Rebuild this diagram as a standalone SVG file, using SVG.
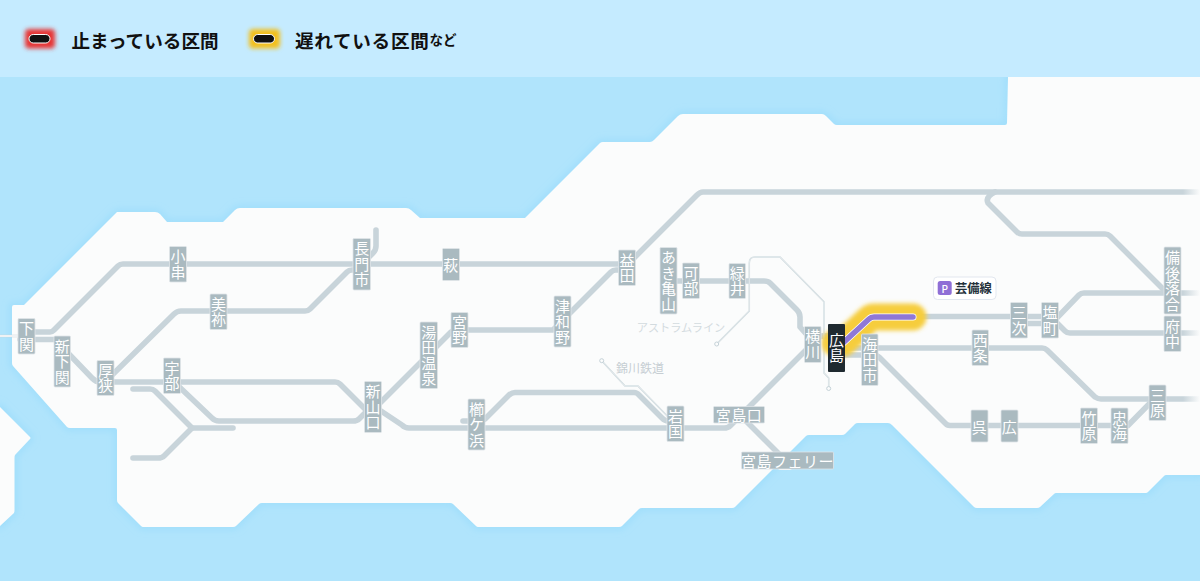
<svg xmlns="http://www.w3.org/2000/svg" width="1200" height="581" viewBox="0 0 1200 581">
<style>
text{font-family:"Noto Sans CJK JP","Noto Sans",sans-serif}
.r{fill:none;stroke:#c8d4da;stroke-width:5.600;stroke-linecap:round;stroke-linejoin:round}
.t{fill:none;stroke:#c9d5da;stroke-width:1.500;stroke-linejoin:round}
.ti{fill:none;stroke:#fbfcfc;stroke-width:.5}
.c{fill:#fbfcfc;stroke:#c5d2d8;stroke-width:1}
.b{fill:#aabac0;stroke:#dfe5e8;stroke-width:.8}
.s{fill:#fff;font-size:15px;letter-spacing:.5px;text-anchor:middle}
.v{writing-mode:vertical-rl;text-orientation:upright;transform:translateY(.3px)}
.h{dominant-baseline:central}
.lg{fill:#111;font-size:18.600px;font-weight:700;dominant-baseline:central}
.pale{font-size:11.200px;fill:#d3dbdf;dominant-baseline:central;text-anchor:middle}
.land{fill:#fbfcfc}
.yl{fill:none;stroke:#f6cd3e;stroke-width:27;stroke-linecap:round;stroke-linejoin:round}
.wl{fill:none;stroke:#fff;stroke-width:7;stroke-linecap:round;stroke-linejoin:round}
.pl{fill:none;stroke:#8f78d6;stroke-width:5.500;stroke-linecap:round;stroke-linejoin:round}
</style>
<defs>
<filter id="b2" x="-40%" y="-120%" width="180%" height="340%"><feGaussianBlur stdDeviation="2.200"/></filter>
<filter id="b4" x="-5%" y="-5%" width="110%" height="110%"><feGaussianBlur stdDeviation="3.500"/></filter>
<linearGradient id="fade" x1="0" x2="1" y1="0" y2="0"><stop offset="0" stop-color="#fbfcfc" stop-opacity="0"/><stop offset="1" stop-color="#fbfcfc"/></linearGradient>
<path id="mainland" d="M14,305H24L117,212H155Q158,212 160,214L167,222H223L235,210Q237,208 240,208H406Q409,208 411,210L420,218H525L600,143Q601,142 603,142H650Q652,142 654,140L678,116Q680,114 683,114H822Q824,114 826,116L834,124Q835,125 837,125H1005Q1007,125 1007,123L1008,77H1200V475H1166Q1165,475 1164,476L1148,492Q1147,493 1146,493H1056Q1055,493 1054,494L1040,507Q1039,508 1037,508H977Q975,508 974,507L892,425Q890,423 888,423H858Q856,423 855,424L845,434Q844,435 842,435H809Q807,435 806,436L735,507Q734,508 732,508H642Q640,508 639,509L622,526Q621,527 619,527H478Q477,527 476,526L453,504Q452,503 450,503H262Q260,503 259,504L236,526Q235,527 233,527H143Q142,527 141,526L118,503Q117,502 117,500V430Q117,428 115,428H70Q68,428 67,427L13,366Q12,365 12,363V307Q12,305 14,305Z"/>
<path id="isle" d="M0,407L30,437Q31,438 30,439L15,455Q14.500,456 14.500,458V510Q14.500,512 14,513L0,526Z"/>
</defs>
<rect width="1200" height="581" fill="#b0e4fc"/>
<g id="sea-glow" filter="url(#b4)" fill="none" stroke="#98dbfb" stroke-width="4"><use href="#mainland"/><use href="#isle"/></g>
<rect id="header" width="1200" height="77" fill="#c5ebff"/>
<g id="land"><use href="#mainland" class="land"/><use href="#isle" class="land"/></g>

<g id="legend">
<rect x="25" y="29" width="30" height="19.500" rx="4" fill="#e63636" filter="url(#b2)"/>
<rect x="29" y="34.500" width="21" height="8.500" rx="4.250" fill="#111" stroke="#fff" stroke-width="1"/>
<text class="lg" x="71.500" y="39">止まっている区間</text>
<rect x="249" y="29" width="31" height="19.500" rx="4" fill="#f3c01e" filter="url(#b2)"/>
<rect x="253.500" y="34.500" width="21" height="8.500" rx="4.250" fill="#111" stroke="#fff" stroke-width="1"/>
<text class="lg" x="295" y="39" letter-spacing=".7">遅れている区間<tspan font-size="13.500px" letter-spacing="0">など</tspan></text>
</g>

<g id="connectors">
<path class="t" d="M0,336H18" style="stroke-width:2.500"/><path d="M0,336H18" stroke="#fff" stroke-width="1.400" fill="none"/>
<path class="r" d="M30,332H50Q52,332 54,330L118,266Q120,264 123,264H626Q628,264 630,262L697,195Q700,192 703,192H1200"/>
<path class="r" d="M20,339.500H55L92,378Q96,382 100,382H335Q338,382 340,384L368,412"/>
<path class="r" d="M105,382L174,314Q177,311 181,311H305Q308,311 310,309L347,272Q349,270 352,270H358"/>
<path class="r" d="M362,264L373,253Q376,250 376,246V230"/>
<path class="r" d="M172,380L212,418Q215,421 219,421H353Q357,421 359,419L368,410"/>
<path class="r" d="M133,389H150Q153,389 155,391L192,428H233"/>
<path class="r" d="M133,458H158Q162,458 164,456L192,428"/>
<path class="r" d="M375,408L451,332Q453,330 456,330H553L611,272Q613,270 616,270H628"/>
<path class="r" d="M372,405L402,425Q405,428 409,428H724Q728,428 730,426L818,338Q820,336 823,336H850"/>
<path class="r" d="M463,421H480Q483,421 485,419L509,395Q512,392.500 515,392.500H634Q637,392.500 639,395L662,418Q665,421 668,421H676"/>
<path class="r" d="M668,281H764Q768,281 770,283L797,310Q800,313 800,317V327L808,336H830"/>
<path class="r" d="M745,420L785,460"/>
<rect x="778" y="465" width="14" height="5" rx="2.500" fill="#fff"/>
<path class="r" d="M850,348H1042Q1045,348 1047,350L1095,397Q1098,399 1101,399H1200"/>
<path class="r" d="M835,355H874Q877,355 879,357L945,423Q947,425.500 950,425.500H1128L1155,398"/>
<path class="r" d="M913,316.500H1050"/>
<path class="r" d="M1018,323.500H1052"/>
<path class="r" d="M1052,323L1079,295Q1081,293 1084,293H1200"/>
<path class="r" d="M1052,318L1065,331Q1067,333 1070,333H1200"/>
<path class="r" d="M995,192Q985,197 988,203L1017,232Q1019,234 1022,234H1105Q1108,234 1110,236L1165,291H1175"/>
<rect x="1183" y="180" width="17" height="230" fill="url(#fade)"/>
<path class="t" d="M716.700,344L749.300,311V263Q749.300,257 755,257H780L824,301.700V373L828.700,378V388"/>
<path class="ti" d="M716.700,344L749.300,311V263Q749.300,257 755,257H780L824,301.700V373L828.700,378V388"/>
<circle class="c" cx="716.700" cy="344" r="2"/><circle class="c" cx="828.700" cy="388.500" r="2"/>
<path class="t" d="M601.700,360.700L625,386H638L668,416.700"/>
<path class="ti" d="M601.700,360.700L625,386H638L668,416.700"/>
<circle class="c" cx="601.700" cy="360.700" r="2"/>
<path class="yl" d="M835,343H843L869,319Q871,317 874,317H913" filter="url(#b2)"/>
<path class="wl" d="M835,343H843L869,319Q871,317 874,317H913"/>
<path class="pl" d="M835,343H843L869,319Q871,317 874,317H913"/>
</g>

<text class="pale" x="681" y="327">アストラムライン</text>
<text class="pale" x="640" y="367" style="font-size:12px;fill:#c6ced3">錦川鉄道</text>

<g id="n-shimonoseki"><rect class="b" x="18" y="318.500" width="17" height="35.500" rx="1"/><text class="s v" x="26.500" y="336.300">下関</text></g>
<g id="n-shinshimonoseki"><rect class="b" x="54" y="336" width="16.500" height="51" rx="1"/><text class="s v" x="62.200" y="361.500">新下関</text></g>
<g id="n-asa"><rect class="b" x="97" y="360.500" width="17" height="35" rx="1"/><text class="s v" x="105.500" y="378">厚狭</text></g>
<g id="n-kogushi"><rect class="b" x="169.500" y="246.500" width="17" height="35.500" rx="1"/><text class="s v" x="178" y="264.200">小串</text></g>
<g id="n-mine"><rect class="b" x="210" y="294" width="17" height="35.500" rx="1"/><text class="s v" x="218.500" y="311.700">美祢</text></g>
<g id="n-ube"><rect class="b" x="163.500" y="358" width="17" height="35.500" rx="1"/><text class="s v" x="172" y="375.700">宇部</text></g>
<g id="n-nagatoshi"><rect class="b" x="353" y="238.500" width="17.500" height="51.500" rx="1"/><text class="s v" x="361.700" y="264.200">長門市</text></g>
<g id="n-shinyamaguchi"><rect class="b" x="364.500" y="381.500" width="17" height="51" rx="1"/><text class="s v" x="373" y="407">新山口</text></g>
<g id="n-hagi"><rect class="b" x="442.500" y="248.500" width="17" height="32" rx="1"/><text class="s h" x="451" y="264">萩</text></g>
<g id="n-yuda"><rect class="b" x="420" y="322" width="17.500" height="66.500" rx="1"/><text class="s v" x="428.700" y="355.200">湯田温泉</text></g>
<g id="n-miyano"><rect class="b" x="451" y="312.500" width="17" height="35" rx="1"/><text class="s v" x="459.500" y="330">宮野</text></g>
<g id="n-kushigahama"><rect class="b" x="468" y="399" width="17" height="51" rx="1"/><text class="s v" x="476.500" y="424.500">櫛ケ浜</text></g>
<g id="n-tsuwano"><rect class="b" x="554" y="296" width="17" height="51" rx="1"/><text class="s v" x="562.500" y="321.500">津和野</text></g>
<g id="n-masuda"><rect class="b" x="618.500" y="250" width="17" height="35.500" rx="1"/><text class="s v" x="627" y="267.700">益田</text></g>
<g id="n-iwakuni"><rect class="b" x="667" y="406" width="17" height="35.500" rx="1"/><text class="s v" x="675.500" y="423.700">岩国</text></g>
<g id="n-akikameyama"><rect class="b" x="660" y="247.500" width="17" height="66.500" rx="1"/><text class="s v" x="668.500" y="280.700">あき亀山</text></g>
<g id="n-kabe"><rect class="b" x="682.500" y="263" width="17" height="35.500" rx="1"/><text class="s v" x="691" y="280.700">可部</text></g>
<g id="n-midorii"><rect class="b" x="729" y="263.500" width="16.500" height="35" rx="1"/><text class="s v" x="737.200" y="281">緑井</text></g>
<g id="n-miyajimaguchi"><rect class="b" x="713.500" y="406.500" width="51" height="16.500" rx="1"/><text class="s h" x="739" y="414.700">宮島口</text></g>
<g id="n-miyajimaferry"><rect class="b" x="741.500" y="452" width="92" height="17" rx="1"/><text class="s h" x="787.500" y="460.500">宮島フェリー</text></g>
<g id="n-yokogawa"><rect class="b" x="804.500" y="326.500" width="16.500" height="36" rx="1"/><text class="s v" x="812.700" y="344.500">横川</text></g>
<g id="n-hiroshima"><rect x="828" y="324" width="17" height="48" rx="1" fill="#1f2a30"/><text class="s v" x="836.500" y="348">広島</text></g>
<g id="n-kaitaichi"><rect class="b" x="861.500" y="334" width="16.500" height="51.500" rx="1"/><text class="s v" x="869.700" y="359.700">海田市</text></g>
<g id="n-geibi"><rect x="933.500" y="277" width="62.500" height="22.500" rx="4" fill="#fff" stroke="#e2e7ef" stroke-width="1"/><rect x="937.700" y="281" width="14" height="14" rx="2.500" fill="#8f6fd6"/><text x="944.700" y="288" font-size="10" font-weight="500" fill="#fff" text-anchor="middle" dominant-baseline="central">P</text><text x="955" y="288" font-size="12.300" font-weight="700" fill="#24313a" dominant-baseline="central">芸備線</text></g>
<g id="n-miyoshi"><rect class="b" x="1010.500" y="302.500" width="17" height="35.500" rx="1"/><text class="s v" x="1019" y="320.200">三次</text></g>
<g id="n-shiomachi"><rect class="b" x="1041.500" y="302.500" width="17" height="35.500" rx="1"/><text class="s v" x="1050" y="320.200">塩町</text></g>
<g id="n-saijo"><rect class="b" x="972" y="330" width="16.500" height="35.500" rx="1"/><text class="s v" x="980.200" y="347.700">西条</text></g>
<g id="n-bingoochiai"><rect class="b" x="1164" y="247" width="17" height="67" rx="1"/><text class="s v" x="1172.500" y="280.500">備後落合</text></g>
<g id="n-fuchu"><rect class="b" x="1164" y="316" width="17" height="35.500" rx="1"/><text class="s v" x="1172.500" y="333.700">府中</text></g>
<g id="n-mihara"><rect class="b" x="1149" y="385" width="17" height="35.500" rx="1"/><text class="s v" x="1157.500" y="402.700">三原</text></g>
<g id="n-kure"><rect class="b" x="971" y="410" width="17" height="32" rx="1"/><text class="s h" x="979.500" y="426">呉</text></g>
<g id="n-hiro"><rect class="b" x="1001" y="410" width="17" height="32" rx="1"/><text class="s h" x="1009.500" y="426">広</text></g>
<g id="n-takehara"><rect class="b" x="1080.500" y="408" width="17" height="35.500" rx="1"/><text class="s v" x="1089" y="425.700">竹原</text></g>
<g id="n-tadanoumi"><rect class="b" x="1111" y="408" width="17" height="35.500" rx="1"/><text class="s v" x="1119.500" y="425.700">忠海</text></g>
</svg>
